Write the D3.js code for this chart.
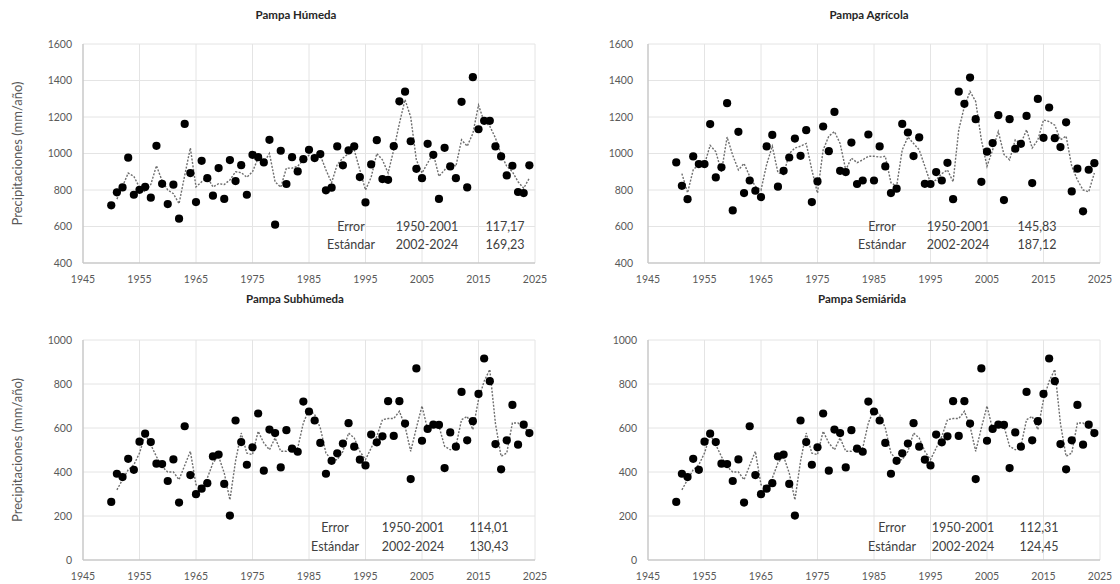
<!DOCTYPE html>
<html>
<head>
<meta charset="utf-8">
<script src="https://cdn.jsdelivr.net/npm/d3@7"></script>
<style>
  body { margin: 0; background: #fff; }
  svg { display: block; font-family: Lato, "Open Sans", sans-serif; }
</style>
</head>
<body>
<svg id="chart" width="1120" height="584"></svg>
<script>
// years 1950..2024
const years = d3.range(1950, 2025);

// observed annual precipitation (dots)
const humedaObs = [716,787,814,977,774,801,817,758,1042,834,
  723,829,643,1162,893,734,960,865,769,920,
  751,964,849,936,774,993,980,951,1075,610,
  1015,833,980,902,969,1020,975,997,798,813,
  1039,935,1017,1039,871,732,940,1073,860,856,
  1040,1286,1339,1067,916,865,1053,993,751,1031,
  929,865,1283,814,1418,1133,1179,1179,1039,984,
  880,933,789,783,935];
// modelled series (dotted line)
const humedaModel = [null,750,820,893,875,814,790,830,933,850,
  800,780,725,880,1030,817,845,870,817,835,
  830,855,900,895,870,900,975,950,1000,845,
  815,920,920,930,965,990,985,990,910,840,
  940,975,1000,1020,910,800,870,1000,965,893,
  1020,1165,1295,1200,965,893,948,1000,875,910,
  948,930,1075,1040,1110,1265,1175,1150,1085,995,
  930,900,845,810,865];

const agricolaObs = [951,823,750,984,942,942,1161,869,924,1276,
  688,1119,783,852,796,761,1039,1102,818,905,
  978,1082,987,1128,734,847,1148,1013,1228,905,
  898,1060,833,852,1104,852,1039,929,783,807,
  1162,1115,986,1088,834,833,898,852,949,750,
  1339,1272,1416,1188,845,1010,1057,1210,745,1188,
  1026,1053,1206,838,1299,1086,1252,1084,1035,1171,
  792,917,683,911,947];
const agricolaModel = [null,890,785,910,942,940,1045,1010,900,1090,
  990,910,945,875,820,800,940,1040,895,885,
  1000,1030,1040,1055,910,783,1020,1095,1120,1055,
  910,975,950,965,985,985,980,985,840,820,
  1020,1090,1055,1020,930,838,855,890,910,845,
  1130,1258,1340,1285,1075,930,1020,1120,995,965,
  1075,1055,1130,1030,1075,1184,1175,1155,1075,1095,
  930,855,800,790,893];

const subhumedaObs = [264,392,377,460,410,538,574,536,438,436,
  359,457,261,608,386,299,324,349,471,479,
  346,202,634,536,433,512,666,406,593,577,
  421,590,506,492,720,675,634,532,392,451,
  485,529,622,515,456,430,570,535,562,722,
  564,722,620,368,871,542,596,615,614,418,
  580,515,764,544,631,755,916,813,527,412,
  544,705,524,615,577];
const subhumedaModel = [null,319,365,410,433,486,570,524,470,425,
  400,400,365,430,494,342,334,372,441,471,
  395,273,450,577,486,479,585,532,501,555,
  494,494,517,509,623,684,661,600,486,456,
  456,494,577,555,494,456,509,562,638,643,
  643,676,608,494,600,700,593,615,608,517,
  501,517,638,653,593,729,813,866,620,471,
  486,623,623,600,585];

// the semi-arid panel shows the same dots and line as the sub-humid one
const semiaridaObs = subhumedaObs;
const semiaridaModel = subhumedaModel;

const periods = ["1950-2001", "2002-2024"];
const errorValues = [["117,17","169,23"], ["145,83","187,12"], ["114,01","130,43"], ["112,31","124,45"]];
const xTicks = [1945,1955,1965,1975,1985,1995,2005,2015,2025];
const yTicksHigh = [400,600,800,1000,1200,1400,1600];
const yTicksLow = [0,200,400,600,800,1000];

const panels = [
  {title:"Pampa Húmeda", obs:humedaObs, model:humedaModel, ticks:yTicksHigh, err:errorValues[0],
   left:83, right:535, top:44, bottom:263, titleX:296, titleY:19, labelGap:11, yTitle:true,
   cols:[351,427,505], rows:[231,249]},
  {title:"Pampa Agrícola", obs:agricolaObs, model:agricolaModel, ticks:yTicksHigh, err:errorValues[1],
   left:648, right:1100, top:44, bottom:263, titleX:869, titleY:19, labelGap:15, yTitle:false,
   cols:[882,958,1037], rows:[231,249]},
  {title:"Pampa Subhúmeda", obs:subhumedaObs, model:subhumedaModel, ticks:yTicksLow, err:errorValues[2],
   left:83, right:535, top:340, bottom:560, titleX:295, titleY:303, labelGap:11, yTitle:true,
   cols:[335,413,489], rows:[532,551]},
  {title:"Pampa Semiárida", obs:semiaridaObs, model:semiaridaModel, ticks:yTicksLow, err:errorValues[3],
   left:648, right:1100, top:340, bottom:560, titleX:862, titleY:303, labelGap:11, yTitle:false,
   cols:[892,963,1039], rows:[532,551]}
];

const svg = d3.select("#chart");

panels.forEach(p => {
  const x = d3.scaleLinear().domain([1945, 2025]).range([p.left, p.right]);
  const y = d3.scaleLinear().domain(d3.extent(p.ticks)).range([p.bottom, p.top]);
  const g = svg.append("g");

  // grid
  g.append("g").selectAll("line").data(p.ticks.slice(1)).join("line")
      .attr("x1", p.left).attr("x2", p.right)
      .attr("y1", d => y(d)).attr("y2", d => y(d))
      .attr("stroke", "#e4e4e4").attr("stroke-width", 1);
  g.append("g").selectAll("line").data(xTicks.slice(1)).join("line")
      .attr("x1", d => x(d)).attr("x2", d => x(d))
      .attr("y1", p.top).attr("y2", p.bottom)
      .attr("stroke", "#e4e4e4").attr("stroke-width", 1);

  // axes lines
  g.append("line").attr("x1", p.left).attr("x2", p.left).attr("y1", p.top).attr("y2", p.bottom)
      .attr("stroke", "#c8c8c8").attr("stroke-width", 1.5);
  g.append("line").attr("x1", p.left).attr("x2", p.right).attr("y1", p.bottom).attr("y2", p.bottom)
      .attr("stroke", "#c8c8c8").attr("stroke-width", 1.5);

  // tick labels
  g.append("g").selectAll("text").data(p.ticks).join("text")
      .attr("x", p.left - p.labelGap).attr("y", d => y(d) + 3.5)
      .attr("text-anchor", "end").attr("font-size", 10.5).attr("fill", "#595959")
      .text(d => d);
  g.append("g").selectAll("text").data(xTicks).join("text")
      .attr("x", d => x(d)).attr("y", p.bottom + 20)
      .attr("text-anchor", "middle").attr("font-size", 10.5).attr("fill", "#595959")
      .text(d => d);

  // model line (dotted)
  const line = d3.line()
      .defined(d => d[1] != null)
      .x(d => x(d[0])).y(d => y(d[1]));
  g.append("path")
      .datum(years.map((yr, i) => [yr, p.model[i]]))
      .attr("d", line)
      .attr("fill", "none").attr("stroke", "#6e6e6e")
      .attr("stroke-width", 1.4).attr("stroke-dasharray", "2,1.5");

  // observed dots
  g.append("g").selectAll("circle").data(years.map((yr, i) => [yr, p.obs[i]])).join("circle")
      .attr("cx", d => x(d[0])).attr("cy", d => y(d[1]))
      .attr("r", 4.1).attr("fill", "#000");

  // title
  g.append("text").attr("x", p.titleX).attr("y", p.titleY)
      .attr("text-anchor", "middle").attr("font-size", 11.5).attr("font-weight", 700)
      .attr("fill", "#262626").text(p.title);

  if (p.yTitle) {
    g.append("text")
        .attr("transform", `translate(22,${(p.top + p.bottom) / 2}) rotate(-90)`)
        .attr("text-anchor", "middle").attr("font-size", 13).attr("fill", "#595959")
        .text("Precipitaciones (mm/año)");
  }

  // error table
  const labels = ["Error", "Estándar"];
  labels.forEach((lab, r) => {
    const row = [lab, periods[r], p.err[r]];
    row.forEach((t, c) => {
      g.append("text").attr("x", p.cols[c]).attr("y", p.rows[r])
          .attr("text-anchor", "middle").attr("font-size", 12.5).attr("fill", "#404040")
          .text(t);
    });
  });
});
</script>
</body>
</html>
